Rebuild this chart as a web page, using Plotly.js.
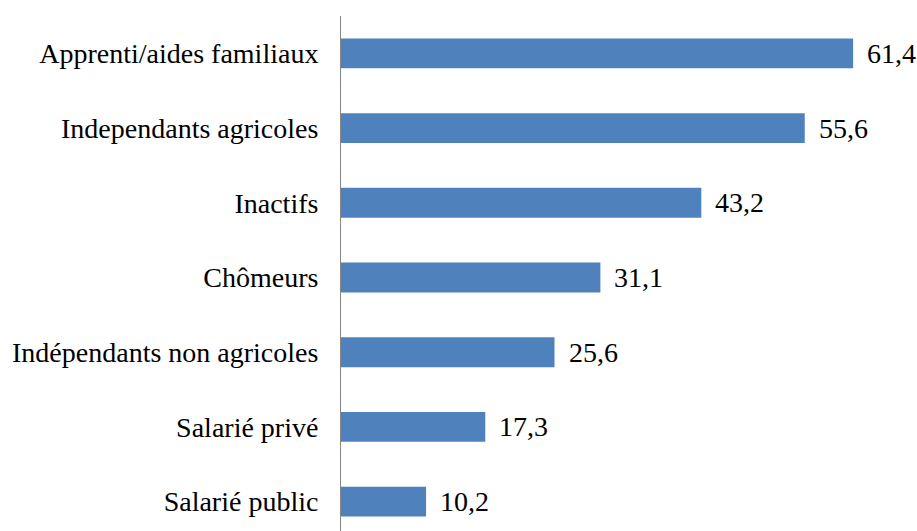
<!DOCTYPE html>
<html>
<head>
<meta charset="utf-8">
<script src="https://cdn.plot.ly/plotly-3.0.1.min.js"></script>
<style>html,body{margin:0;padding:0;background:#fff;}#chart{width:917px;height:531px;}</style>
</head>
<body>
<div id="chart"></div>
<script>
// Categories listed top to bottom
const categories = [
  "Apprenti/aides familiaux",
  "Independants agricoles",
  "Inactifs",
  "Chômeurs",
  "Indépendants non agricoles",
  "Salarié privé",
  "Salarié public"
];
const values = [61.4, 55.6, 43.2, 31.1, 25.6, 17.3, 10.2];
const valueLabels = ["61,4", "55,6", "43,2", "31,1", "25,6", "17,3", "10,2"];

const FONT = "Liberation Serif";

const trace = {
  type: "bar", orientation: "h", x: values, y: categories,
  marker: {color: "#4F81BD"}, hoverinfo: "none"
};

const annotations = categories.map((c, i) => ({
  x: values[i], y: c, xref: "x", yref: "y", text: valueLabels[i],
  showarrow: false, xanchor: "left", yanchor: "middle", xshift: 12,
  font: {family: FONT, size: 28, color: "#000"}
}));

const layout = {
  width: 917, height: 531,
  margin: {l: 341, r: 0, t: 16, b: 0, pad: 0},
  paper_bgcolor: "#fff", plot_bgcolor: "#fff",
  bargap: 0.6, showlegend: false, separators: ", ",
  font: {family: FONT, size: 28, color: "#000"},
  xaxis: {range: [0, 69.06], visible: false, showgrid: false, zeroline: false, fixedrange: true},
  yaxis: {
    type: "category", range: [6.393, -0.5], showline: true,
    linecolor: "#868686", linewidth: 1, ticks: "", ticklabelstandoff: 16,
    showgrid: false, zeroline: false,
    tickfont: {family: FONT, size: 28, color: "#000"},
    automargin: false, fixedrange: true
  },
  annotations: annotations
};

Plotly.newPlot("chart", [trace], layout, {displayModeBar: false, staticPlot: true});
</script>
</body>
</html>
